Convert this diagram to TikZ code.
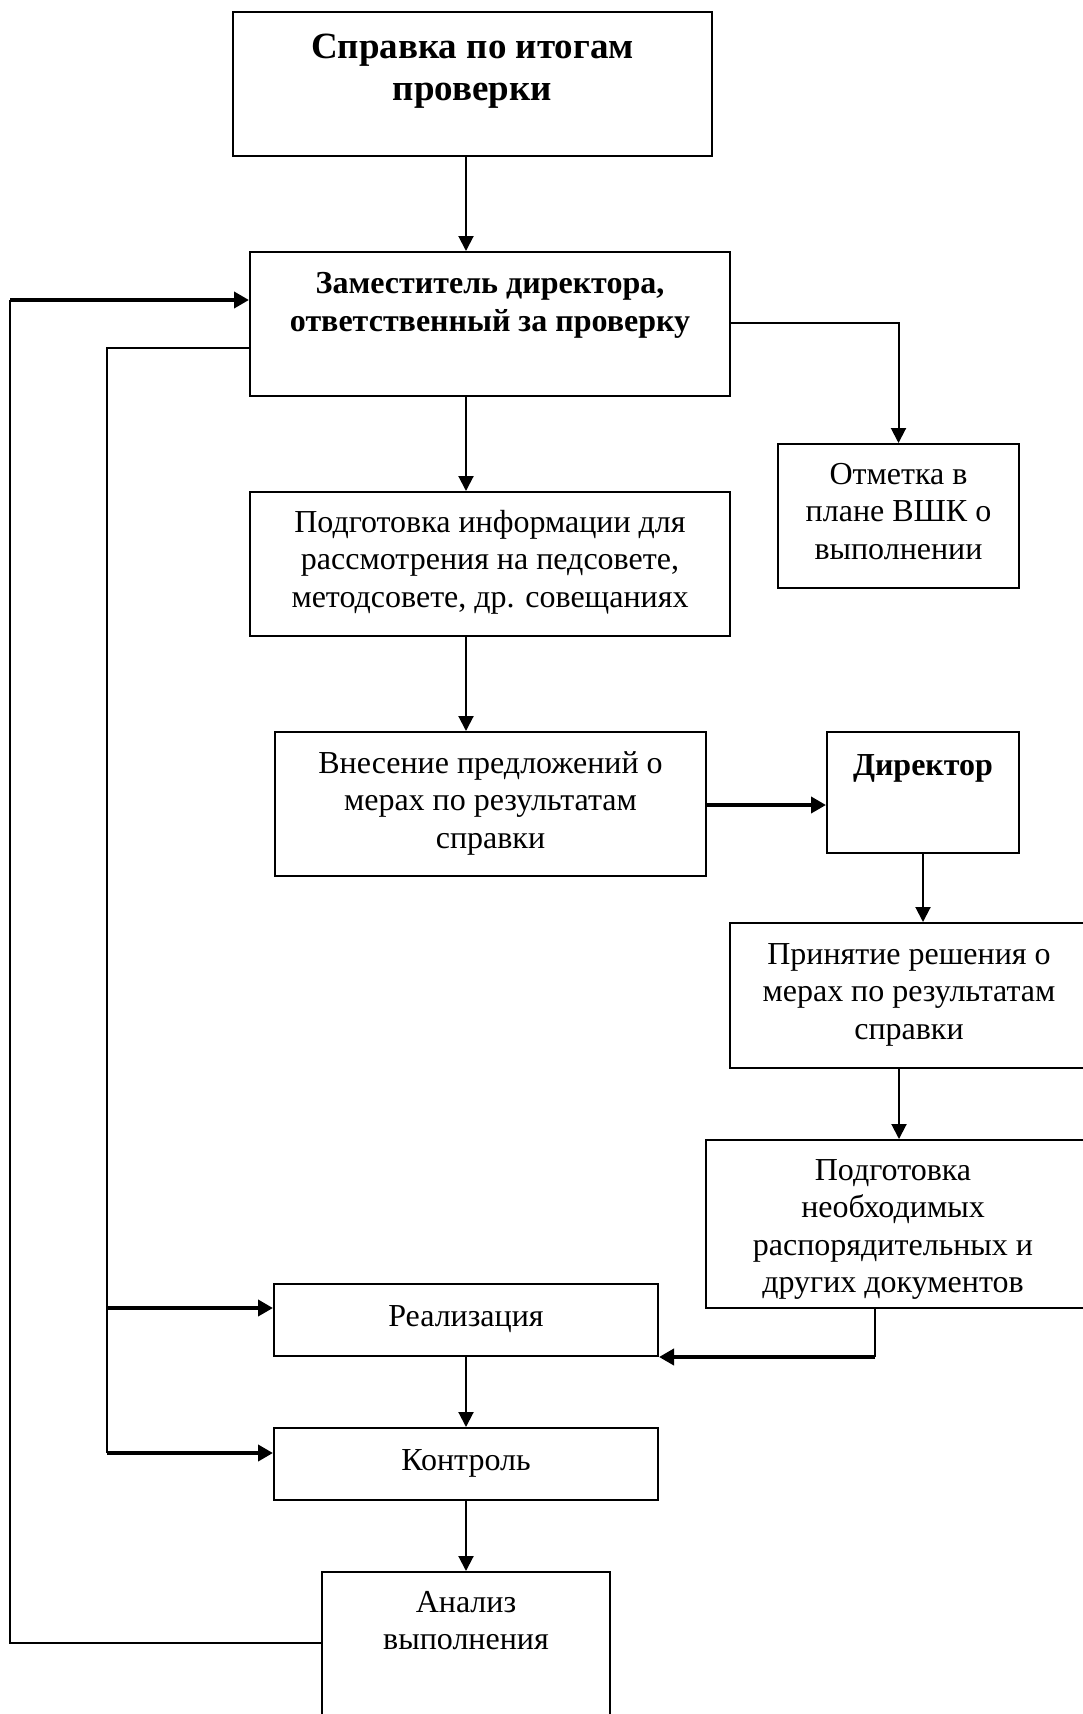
\documentclass[tikz,border=0pt]{standalone}
\usepackage{fontspec}
\setmainfont{Liberation Serif}
\usetikzlibrary{arrows.meta,calc}
\begin{document}
\begin{tikzpicture}[x=1pt,y=-1pt,
  box/.style={draw,line width=2pt,inner sep=0,rectangle},
  txt/.style={anchor=north,inner sep=0,align=center,font=\fontsize{32}{37.5}\selectfont},
  btxt/.style={anchor=north,inner sep=0,align=center,font=\fontsize{32}{38}\selectfont\bfseries},
  ttl/.style={anchor=north,inner sep=0,align=center,font=\fontsize{37}{42.6}\selectfont\bfseries},
  arr/.style={line width=2pt,-{Triangle[length=15pt,width=15pt]}},
  tarr/.style={line width=4pt,-{Triangle[length=15pt,width=16pt]}},
  fb/.style={line width=1.5pt,line join=miter}]
\useasboundingbox (0,0) rectangle (1082,1714);
% boxes
\node[box,minimum width=479pt,minimum height=144pt] (B1) at (472.5,84) {};
\node[box,minimum width=480pt,minimum height=144pt] (B2) at (490,324) {};
\node[box,minimum width=241pt,minimum height=144pt] (B3) at (898.5,516) {};
\node[box,minimum width=480pt,minimum height=144pt] (B4) at (490,564) {};
\node[box,minimum width=431pt,minimum height=144pt] (B5) at (490.5,804) {};
\node[box,minimum width=192pt,minimum height=121pt] (B6) at (923,792.5) {};
\node[box,minimum width=360pt,minimum height=145pt] (B7) at (910,995.5) {};
\node[box,minimum width=380pt,minimum height=168pt] (B8) at (896,1224) {};
\node[box,minimum width=384pt,minimum height=72pt] (B9) at (466,1320) {};
\node[box,minimum width=384pt,minimum height=72pt] (B10) at (466,1464) {};
\node[box,minimum width=288pt,minimum height=158pt] (B11) at (466,1651) {};
% texts
\node[ttl] (T1) at ($(B1.north)+(0,13)$) {\rule{0pt}{34pt}Справка по итогам\\проверки};
\node[btxt] (T2) at ($(B2.north)+(0,12)$) {\rule{0pt}{30pt}Заместитель директора,\\ответственный за проверку};
\node[txt] (T3) at ($(B3.north)+(0,11)$) {\rule{0pt}{30pt}Отметка в\\плане ВШК о\\выполнении};
\node[txt] (T4) at ($(B4.north)+(0,11)$) {\rule{0pt}{30pt}Подготовка информации для\\рассмотрения на педсовете,\\методсовете, др. совещаниях};
\node[txt] (T5) at ($(B5.north)+(0,12)$) {\rule{0pt}{30pt}Внесение предложений о\\мерах по результатам\\справки};
\node[btxt] (T6) at ($(B6.north)+(0,14)$) {\rule{0pt}{30pt}Директор};
\node[txt] (T7) at ($(B7.north west)+(180,12)$) {\rule{0pt}{30pt}Принятие решения о\\мерах по результатам\\справки};
\node[txt] (T8) at ($(B8.north west)+(188,11)$) {\rule{0pt}{30pt}Подготовка\\необходимых\\распорядительных и\\других документов};
\node[txt] (T9) at ($(B9.north)+(0,13)$) {\rule{0pt}{30pt}Реализация};
\node[txt] (T10) at ($(B10.north)+(0,13)$) {\rule{0pt}{30pt}Контроль};
\node[txt] (T11) at ($(B11.north)+(0,11)$) {\rule{0pt}{30pt}Анализ\\выполнения};
% helper coordinates
\coordinate (colx) at (466,0);
\coordinate (c2) at (899,0);
\coordinate (c3) at (875,0);
\coordinate (L1) at (10,0);
\coordinate (L2) at (107,0);
\coordinate (r1) at (0,323);
\coordinate (r2) at (0,805);
\coordinate (r3) at (0,1643);
\coordinate (r4) at (0,300);
\coordinate (r5) at (0,348);
\coordinate (r6) at (0,1308);
\coordinate (r7) at (0,1453);
% connectors
\draw[arr] (B1.south -| colx) -- (B2.north -| colx);
\draw[arr] (B2.east |- r1) -| (B3.north);
\draw[arr] (B2.south -| colx) -- (B4.north -| colx);
\draw[arr] (B4.south -| colx) -- (B5.north -| colx);
\draw[tarr] (B5.east |- r2) -- (B6.west |- r2);
\draw[arr] (B6.south) -- (B7.north -| B6.south);
\draw[arr] (B7.south -| c2) -- (B8.north -| c2);
\draw[fb] (B8.south -| c3) -- (B9.south east -| c3);
\draw[tarr] (B9.south east -| c3) -- (B9.south east);
\draw[arr] (B9.south -| colx) -- (B10.north -| colx);
\draw[arr] (B10.south) -- (B11.north);
% feedback loops
\draw[fb] (B11.west |- r3) -- (L1 |- r3) -- (L1 |- r4);
\draw[tarr] (L1 |- r4) -- (B2.west |- r4);
\draw[fb] (B2.west |- r5) -- (L2 |- r5) -- (L2 |- r7);
\draw[tarr] (L2 |- r6) -- (B9.west |- r6);
\draw[tarr] (L2 |- r7) -- (B10.west |- r7);
\end{tikzpicture}
\end{document}
